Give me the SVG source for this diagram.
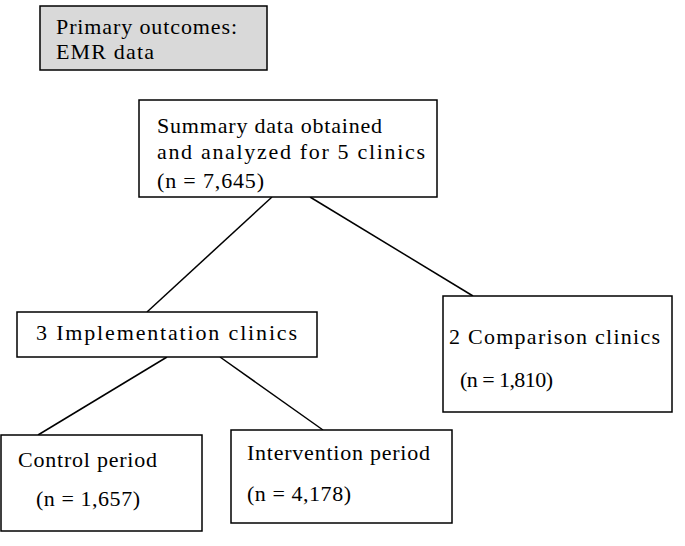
<svg xmlns="http://www.w3.org/2000/svg" width="685" height="546" viewBox="0 0 685 546">
<style>
rect{stroke:#000;stroke-width:1.5;fill:#fff}
text{font-family:"Liberation Serif",serif;font-size:22px;fill:#000}
line{stroke:#000;stroke-width:1.5}
</style>
<rect width="685" height="546" style="stroke:none"/>
<g id="connectors">
<line x1="272" y1="197" x2="147" y2="312"/>
<line x1="310" y1="197" x2="473" y2="296"/>
<line x1="167" y1="357" x2="38" y2="435"/>
<line x1="220" y1="357" x2="323" y2="430"/>
</g>
<g id="primary"><rect x="40" y="6" width="227" height="64" style="fill:#d9d9d9"/>
<text x="56" y="34" textLength="181">Primary outcomes:</text><text x="56" y="59" textLength="98">EMR data</text></g>
<g id="summary"><rect x="139" y="100" width="298" height="97"/>
<text x="157" y="133" textLength="225">Summary data obtained</text><text x="157" y="159" textLength="268">and analyzed for 5 clinics</text><text x="157" y="188" textLength="107">(n = 7,645)</text></g>
<g id="impl"><rect x="17" y="312" width="300" height="45"/>
<text x="36" y="340" textLength="261">3 Implementation clinics</text></g>
<g id="comp"><rect x="443" y="296" width="229" height="116"/>
<text x="449" y="344" textLength="211">2 Comparison clinics</text><text x="460" y="387" textLength="93">(n = 1,810)</text></g>
<g id="control"><rect x="1" y="435" width="201" height="96"/>
<text x="18" y="467" textLength="139">Control period</text><text x="36" y="506" textLength="104">(n = 1,657)</text></g>
<g id="intervention"><rect x="231" y="430" width="221" height="93"/>
<text x="247" y="460" textLength="183">Intervention period</text><text x="247" y="501" textLength="104">(n = 4,178)</text></g>
</svg>
